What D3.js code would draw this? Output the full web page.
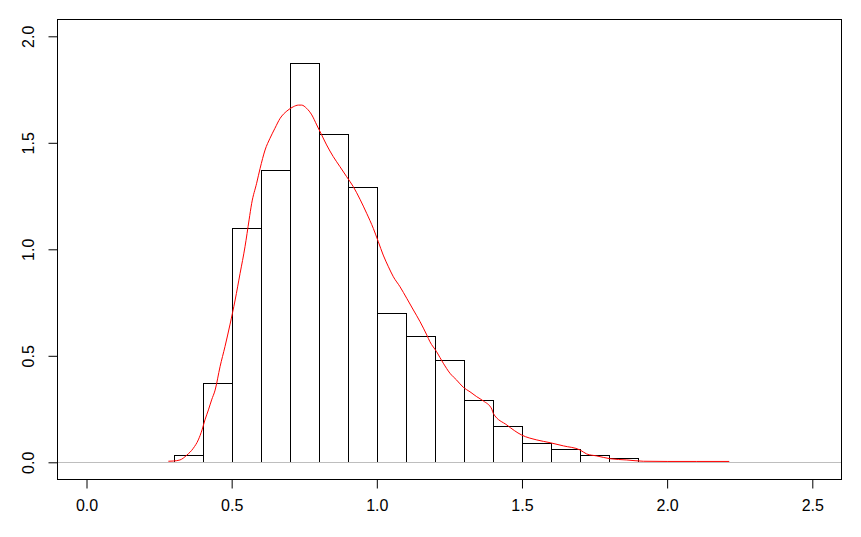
<!DOCTYPE html>
<html>
<head>
<meta charset="utf-8">
<script src="https://cdn.jsdelivr.net/npm/d3@7"></script>
<style>
  html, body { margin: 0; padding: 0; background: #fff; }
  svg { display: block; }
  text { font-family: "Liberation Sans", Arial, sans-serif; font-size: 16px; fill: #000; }
</style>
</head>
<body>
<svg id="chart" width="861" height="537"></svg>
<script>
// Histogram bins (left edges) and densities
const binStarts = [0.3,0.4,0.5,0.6,0.7,0.8,0.9,1.0,1.1,1.2,1.3,1.4,1.5,1.6,1.7,1.8,1.9,2.0,2.1];
const binDensity = [0.033,0.371,1.10,1.371,1.873,1.540,1.293,0.70,0.593,0.479,0.292,0.169,0.091,0.061,0.033,0.019,0.002,0.002,0.002];
const binWidth = 0.1;

// Density curve
const densX = [0.282,0.299,0.322,0.345,0.368,0.385,0.398,0.408,0.420,0.431,0.443,0.460,0.477,0.494,0.512,0.529,0.546,0.560,0.569,0.586,0.598,0.615,0.632,0.649,0.667,0.690,0.712,0.730,0.741,0.758,0.776,0.793,0.810,0.827,0.850,0.873,0.896,0.919,0.942,0.965,0.988,1.005,1.022,1.040,1.057,1.080,1.103,1.126,1.149,1.172,1.183,1.206,1.229,1.252,1.275,1.298,1.321,1.344,1.367,1.396,1.401,1.448,1.499,1.551,1.597,1.643,1.700,1.723,1.757,1.803,1.861,1.918,2.000,2.100,2.214];
const densY = [0.005,0.006,0.011,0.033,0.066,0.105,0.152,0.199,0.246,0.293,0.339,0.449,0.543,0.645,0.762,0.887,1.012,1.138,1.216,1.310,1.380,1.466,1.521,1.568,1.615,1.649,1.669,1.677,1.677,1.662,1.631,1.584,1.537,1.490,1.435,1.388,1.341,1.294,1.235,1.169,1.098,1.036,0.973,0.918,0.871,0.824,0.770,0.715,0.660,0.598,0.566,0.519,0.465,0.418,0.386,0.352,0.331,0.308,0.288,0.250,0.230,0.175,0.128,0.105,0.092,0.077,0.058,0.039,0.030,0.017,0.011,0.005,0.004,0.004,0.004];

// Axis ticks
const xTicks = [0.0, 0.5, 1.0, 1.5, 2.0, 2.5];
const yTicks = [0.0, 0.5, 1.0, 1.5, 2.0];

const svg = d3.select("#chart");
const box = {left: 57.5, right: 841.5, top: 19.5, bottom: 479.5};

const x = d3.scaleLinear().domain([0, 2.5]).range([86.5, 812.3]);
const y = d3.scaleLinear().domain([0, 2]).range([462.3, 36.3]);

// Histogram bars
svg.append("g").selectAll("rect")
  .data(binStarts.map((s, i) => ({s, d: binDensity[i]})))
  .join("rect")
  .attr("x", d => Math.round(x(d.s)) + 0.5)
  .attr("width", d => Math.round(x(d.s + binWidth)) - Math.round(x(d.s)))
  .attr("y", d => Math.round(y(d.d)) + 0.5)
  .attr("height", d => Math.max(0, Math.round(y(0)) - Math.round(y(d.d))))
  .attr("fill", "none")
  .attr("stroke", "#000")
  .attr("stroke-width", 1);

// Gray zero line across the plot region
svg.append("line")
  .attr("x1", box.left).attr("x2", box.right)
  .attr("y1", Math.round(y(0)) + 0.5).attr("y2", Math.round(y(0)) + 0.5)
  .attr("stroke", "#bebebe").attr("stroke-width", 1);

// Density curve
const line = d3.line().x((d, i) => x(densX[i])).y((d, i) => y(densY[i])).curve(d3.curveMonotoneX);
svg.append("path")
  .attr("d", line(densX))
  .attr("fill", "none")
  .attr("stroke", "#ff0000")
  .attr("stroke-width", 1);

// Box
svg.append("rect")
  .attr("x", box.left).attr("y", box.top)
  .attr("width", box.right - box.left).attr("height", box.bottom - box.top)
  .attr("fill", "none").attr("stroke", "#000").attr("stroke-width", 1);

// X axis
const xAxis = d3.axisBottom(x).tickValues(xTicks).tickSize(9).tickPadding(11)
  .tickFormat(d3.format(".1f"));
const gx = svg.append("g").attr("transform", `translate(0,${box.bottom})`).call(xAxis);
gx.select(".domain").remove();
gx.selectAll(".tick line").attr("stroke", "#000");
gx.selectAll(".tick text").style("font-size", "16px").style("font-family", "'Liberation Sans', Arial, sans-serif").attr("fill", "#000");

// Y axis
const yAxis = d3.axisLeft(y).tickValues(yTicks).tickSize(9).tickFormat(d3.format(".1f"));
const gy = svg.append("g").attr("transform", `translate(${box.left},0)`).call(yAxis);
gy.select(".domain").remove();
gy.selectAll(".tick line").attr("stroke", "#000");
gy.selectAll(".tick text")
  .attr("x", null).attr("dy", null)
  .attr("text-anchor", "middle")
  .attr("dominant-baseline", "central")
  .attr("transform", "translate(-29,0) rotate(-90)")
  .style("font-size", "16px").style("font-family", "'Liberation Sans', Arial, sans-serif").attr("fill", "#000");
</script>
</body>
</html>
